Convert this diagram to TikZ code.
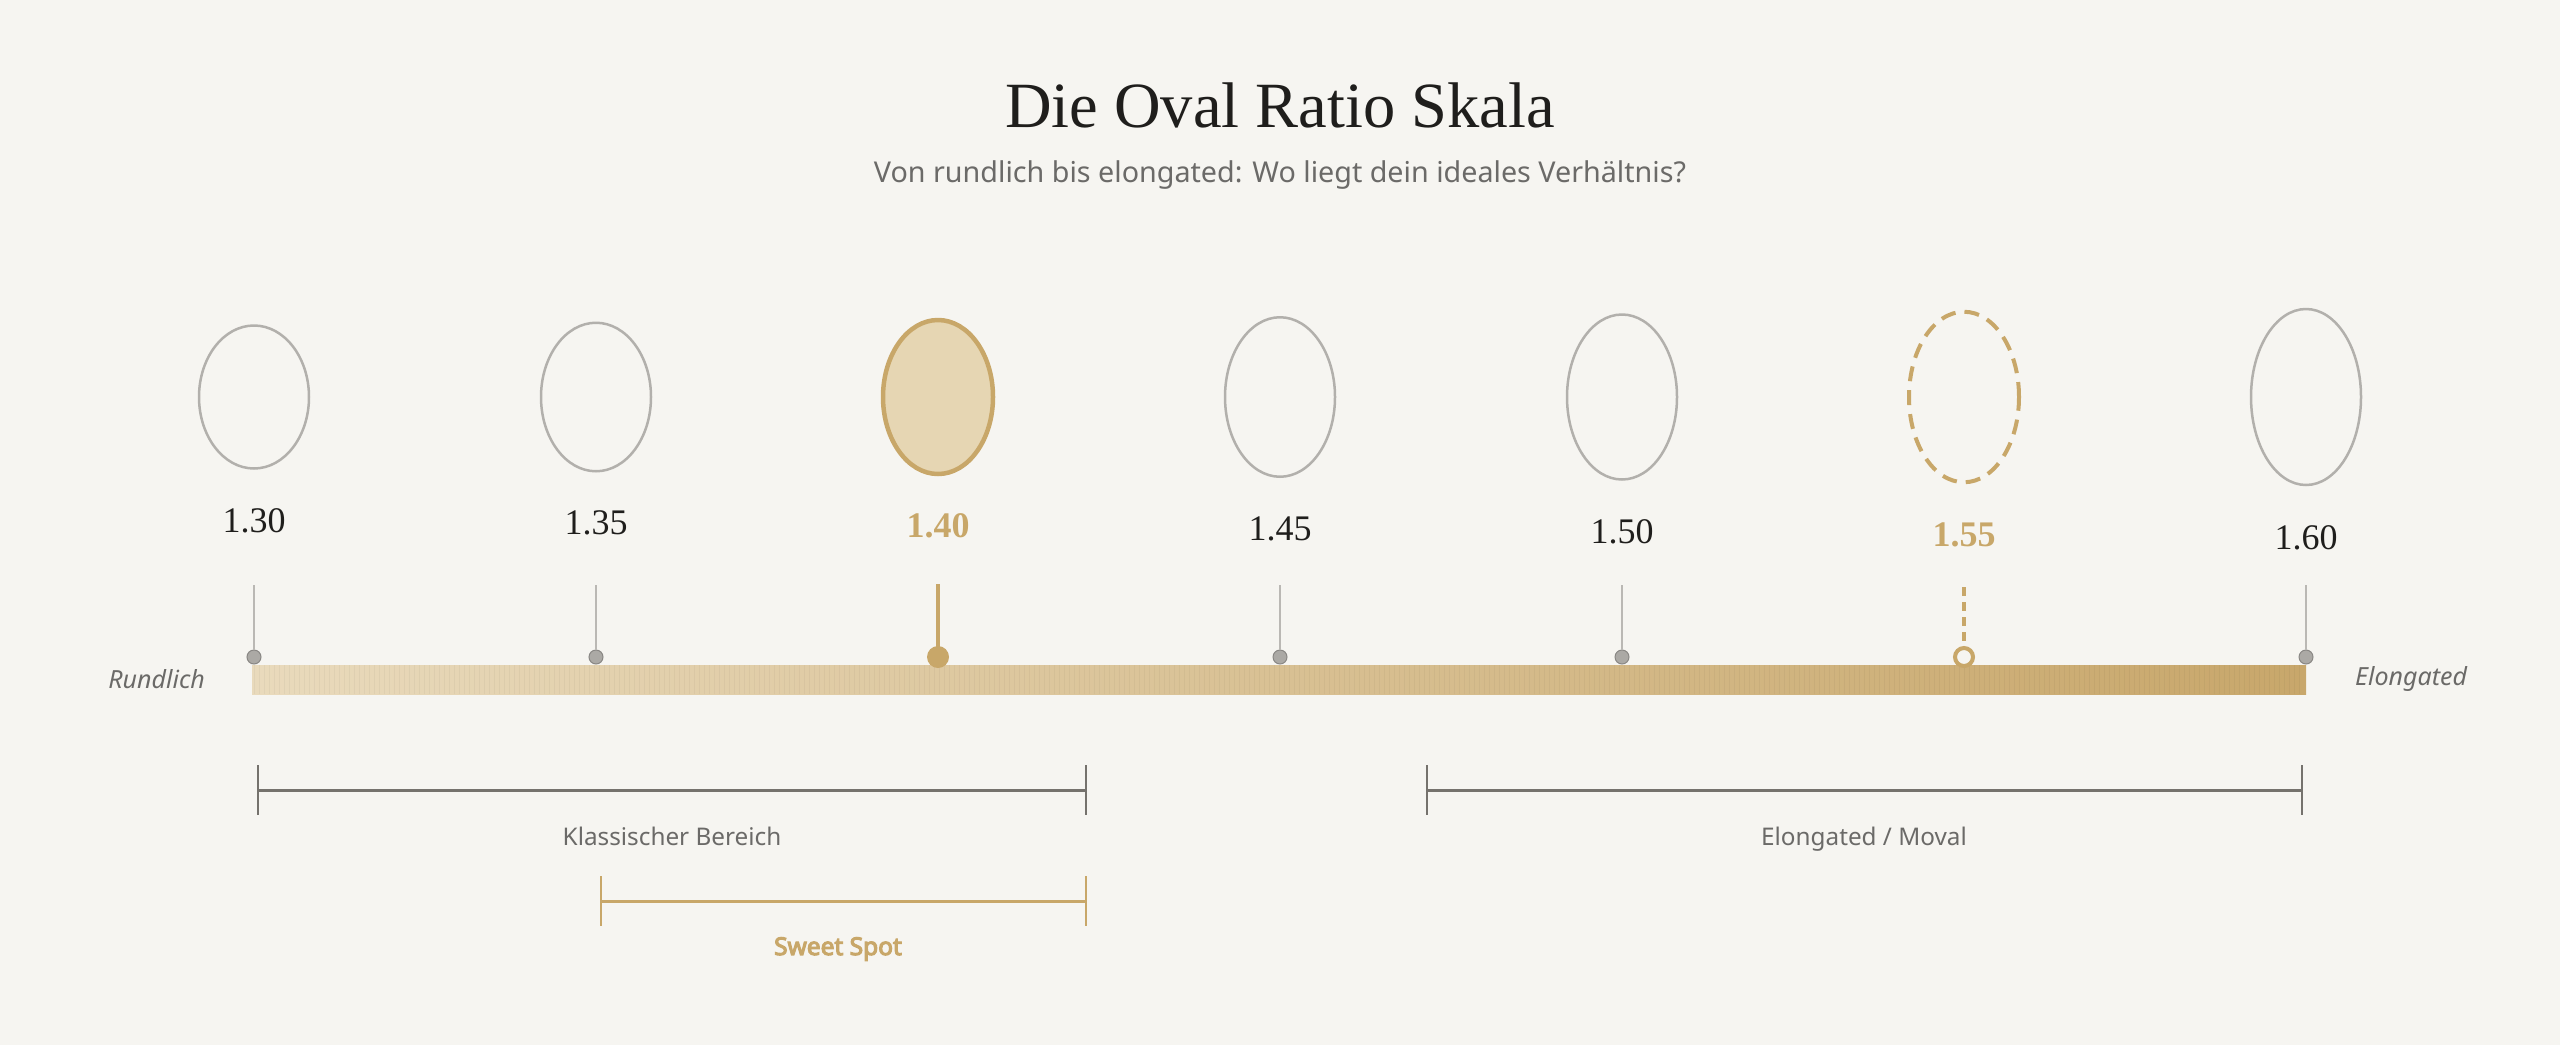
\documentclass[tikz,border=0pt]{standalone}
\usepackage{fontspec}
\setmainfont{Liberation Serif}
\newfontfamily\notosans{Noto Sans}
\newfontfamily\notosansbf{Noto Sans}[FakeBold=4.5]
\usetikzlibrary{shapes.geometric}
\definecolor{bg}{HTML}{F6F5F1}
\definecolor{gold}{HTML}{C8A769}
\definecolor{goldfill}{HTML}{E6D6B3}
\definecolor{ovalgray}{HTML}{B2B0AC}
\definecolor{txtgray}{HTML}{6B6A68}
\definecolor{titlec}{HTML}{1F1E1C}
\definecolor{barL}{HTML}{E9DABC}
\definecolor{barR}{HTML}{C8A76B}
\definecolor{rangec}{HTML}{75726D}
\definecolor{dotc}{HTML}{ABA9A5}
\definecolor{tickc}{HTML}{BAB8B4}
\begin{document}
\begin{tikzpicture}[x=1pt,y=-1pt,
  oval/.style={ellipse, draw=ovalgray, line width=2.5pt, minimum width=110pt, inner sep=0pt},
  ovalhi/.style={ellipse, draw=gold, fill=goldfill, line width=4.5pt, minimum width=110pt, inner sep=0pt},
  ovaldash/.style={ellipse, draw=gold, line width=4pt, dash pattern=on 15pt off 9pt, minimum width=110pt, inner sep=0pt},
  numlbl/.style={font=\fontsize{36}{40}\selectfont, text=titlec, inner sep=0pt},
  numhi/.style={font=\fontsize{36}{40}\selectfont\bfseries, text=gold, inner sep=0pt},
  tickline/.style={draw=tickc, line width=2pt},
  dotnode/.style={circle, fill=dotc, draw=dotc!80!black, line width=1pt, minimum size=14pt, inner sep=0pt},
  rangeline/.style={draw=rangec, line width=3pt},
  rangetick/.style={draw=rangec, line width=2.5pt},
  goldline/.style={draw=gold, line width=3pt},
  goldtick/.style={draw=gold, line width=2.5pt},
  rangelbl/.style={font=\notosans\fontsize{24.3}{27}\selectfont, text=txtgray, inner sep=0pt, anchor=base},
  sideLbl/.style={font=\notosans\itshape\fontsize{25}{28}\selectfont, text=txtgray, inner sep=0pt}
]
\fill[bg] (0,0) rectangle (2560,1045);
\useasboundingbox (0,0) rectangle (2560,1045);

% title
\node[font=\fontsize{64.5}{70}\selectfont, text=titlec, anchor=base, inner sep=0pt] (title) at (1280,127) {Die Oval Ratio Skala};
\node[font=\notosans\fontsize{28.7}{32}\selectfont, text=txtgray, inner sep=0pt] (sub) at (1280,175) {Von rundlich bis elongated: Wo liegt dein ideales Verhältnis?};

% ovals
\node[oval, minimum height=143pt] (o1) at (254,397) {};
\node[oval, minimum height=148.5pt] (o2) at (596,397) {};
\node[ovalhi, minimum height=154pt] (o3) at (938,397) {};
\node[oval, minimum height=159.5pt] (o4) at (1280,397) {};
\node[oval, minimum height=165pt] (o5) at (1622,397) {};
\node[ovaldash, minimum height=170.5pt] (o6) at (1964,397) {};
\node[oval, minimum height=176pt] (o7) at (2306,397) {};

% numbers
\node[numlbl] (n1) at (254,521) {1.30};
\node[numlbl] (n2) at (596,523) {1.35};
\node[numhi]  (n3) at (938,526) {1.40};
\node[numlbl] (n4) at (1280,529) {1.45};
\node[numlbl] (n5) at (1622,532) {1.50};
\node[numhi]  (n6) at (1964,535) {1.55};
\node[numlbl] (n7) at (2306,538) {1.60};

% gradient bar
\shade[left color=barL, right color=barR] (252,665) rectangle (2306,694);
\foreach \i in {0,...,409} {
  \draw[black, opacity=0.035, line width=0.8pt] (254+5*\i,665) -- (254+5*\i,694);
}

% tick lines and dots
\foreach \k/\xx in {1/254,2/596,4/1280,5/1622,7/2306} {
  \coordinate (t\k) at (\xx,585);
  \node[dotnode] (d\k) at (\xx,657) {};
  \draw[tickline] (t\k) -- (d\k);
}
% 1.40 marker
\coordinate (t3) at (938,584);
\node[circle, fill=gold, minimum size=22pt, inner sep=0pt] (d3) at (938,657) {};
\draw[draw=gold, line width=4.5pt] (t3) -- (d3.center);
% 1.55 marker
\coordinate (t6) at (1964,587);
\node[circle, draw=gold, fill=bg, line width=4pt, minimum size=18pt, inner sep=0pt] (d6) at (1964,657) {};
\draw[draw=gold, line width=4pt, dash pattern=on 9pt off 6pt] (t6) -- (d6.north);

% side labels
\node[sideLbl, anchor=east] (rund) at (205,679) {Rundlich};
\node[sideLbl, anchor=west] (elong) at (2355,679) {Elongated};

% range: Klassischer Bereich
\coordinate (k1) at (258,790);
\coordinate (k2) at (1086,790);
\draw[rangeline] (k1) -- (k2);
\draw[rangetick] (k1) ++(0,-25) -- ++(0,50);
\draw[rangetick] (k2) ++(0,-25) -- ++(0,50);
\node[rangelbl] (klbl) at (672,845) {Klassischer Bereich};

% range: Elongated / Moval
\coordinate (e1) at (1427,790);
\coordinate (e2) at (2302,790);
\draw[rangeline] (e1) -- (e2);
\draw[rangetick] (e1) ++(0,-25) -- ++(0,50);
\draw[rangetick] (e2) ++(0,-25) -- ++(0,50);
\node[rangelbl] (elbl) at (1864,845) {Elongated / Moval};

% range: Sweet Spot
\coordinate (s1) at (601,901);
\coordinate (s2) at (1086,901);
\draw[goldline] (s1) -- (s2);
\draw[goldtick] (s1) ++(0,-25) -- ++(0,50);
\draw[goldtick] (s2) ++(0,-25) -- ++(0,50);
\node[font=\notosansbf\fontsize{24.5}{27}\selectfont, text=gold, inner sep=0pt, anchor=base] (slbl) at (838,955) {Sweet Spot};
\end{tikzpicture}
\end{document}
